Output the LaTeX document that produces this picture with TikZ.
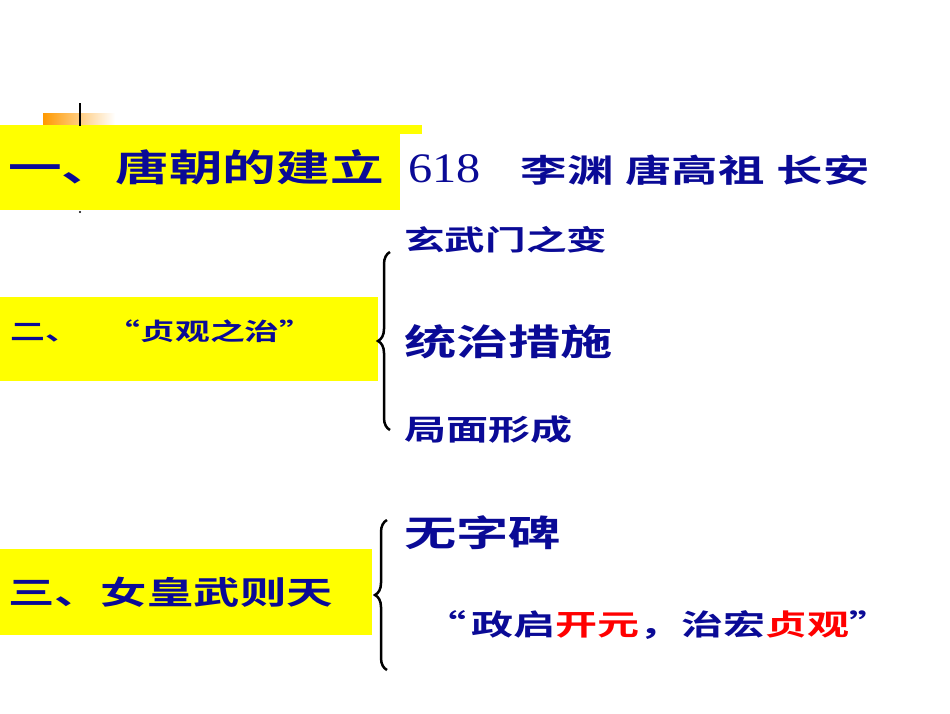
\documentclass[tikz,border=0pt]{standalone}
\usepackage{fontspec}
\newfontfamily\cjk[FakeStretch=1.45]{Noto Sans CJK SC Bold}
\newfontfamily\srf[FakeStretch=1.15]{Liberation Serif}
\usetikzlibrary{decorations.pathreplacing}
\definecolor{tb}{RGB}{10,10,150}
\definecolor{yb}{RGB}{255,255,0}
\tikzset{t/.style={inner sep=0pt,anchor=west,text=tb,font=\cjk},
 br/.style={decorate,decoration={brace,amplitude=12pt},line width=2.5pt}}
\begin{document}
\begin{tikzpicture}[x=1pt,y=-1pt]
\useasboundingbox (0,0) rectangle (950,713);
\fill[white] (0,0) rectangle (950,713);
\shade[left color=orange!80!yellow,right color=white] (43,113) rectangle (115,126);
\fill[yb] (0,125) rectangle (422,134);
\fill[yb] (0,125) rectangle (400,210);
\draw[line width=1.5pt] (80,103) -- (80,126);
\fill (80,212) circle (1.2);
\fill[yb] (0,297) rectangle (378,381);
\fill[yb] (0,549) rectangle (372,635);
\node[t,font=\cjk\fontsize{37}{40}\selectfont] (a) at (8,167) {一、唐朝的建立};
\node[t,font=\fontsize{42}{44}\selectfont] (b) at (408,170) {{\srf 618}\hspace{40pt}{\cjk\fontsize{32}{36}\selectfont 李渊\hspace{12pt}唐高祖\hspace{12pt}长安}};
\node[t,font=\cjk\fontsize{24}{26}\selectfont] (c) at (10,331) {二、\hspace{26pt}“贞观之治”};
\draw[br] (390,430) -- (390,252);
\node[t,font=\cjk\fontsize{28}{30}\selectfont] (d) at (404,240) {玄武门之变};
\node[t,font=\cjk\fontsize{36}{36}\selectfont] (e) at (404,342) {统治措施};
\node[t,font=\cjk\fontsize{29}{30}\selectfont] (f) at (404,430) {局面形成};
\node[t,font=\cjk\fontsize{32}{33}\selectfont] (g) at (8,592) {三、女皇武则天};
\draw[br] (387,670) -- (387,520);
\node[t,font=\cjk\fontsize{36}{36}\selectfont] (h) at (404,533) {无字碑};
\node[t,font=\cjk\fontsize{29}{30}\selectfont] (i) at (424,625) {“\,政启\textcolor{red}{开元}，治宏\textcolor{red}{贞观}”};
\end{tikzpicture}
\end{document}
